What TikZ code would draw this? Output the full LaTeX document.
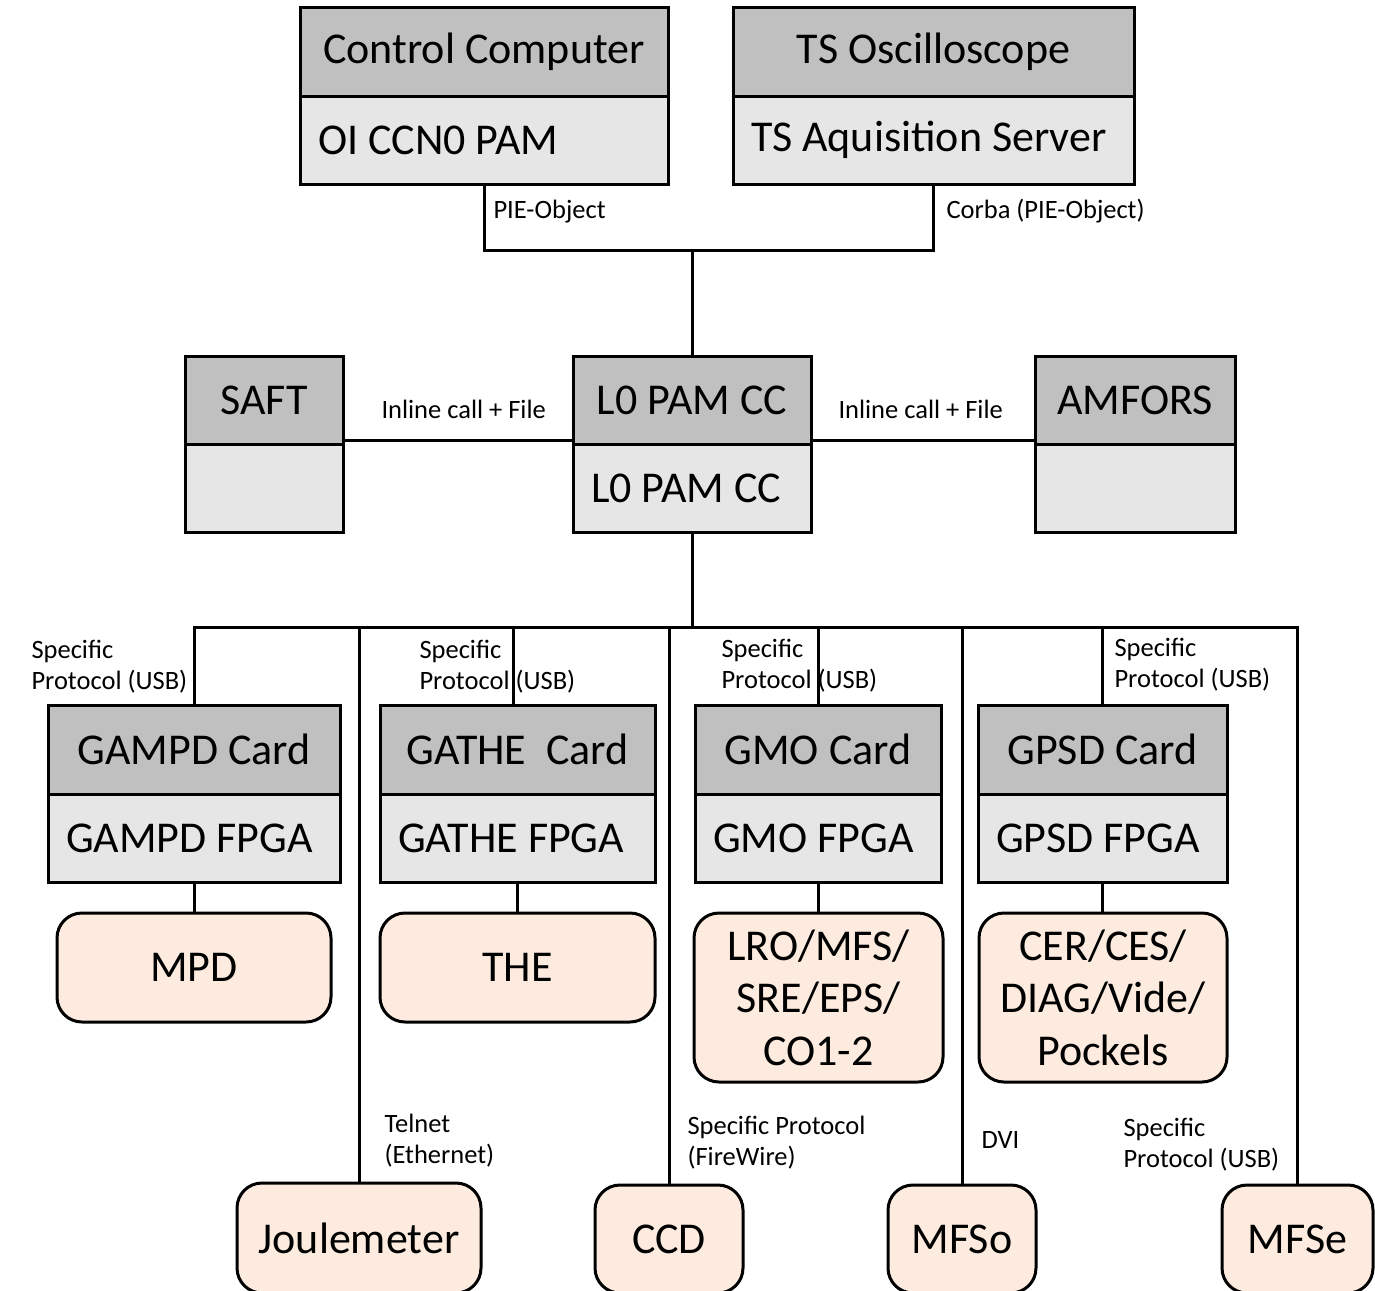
\documentclass[tikz,border=0pt]{standalone}
\usepackage{fontspec}
\setmainfont{Carlito}
\definecolor{hdr}{RGB}{192,192,192}
\definecolor{bdy}{RGB}{230,230,230}
\definecolor{dev}{RGB}{252,235,222}
\begin{document}
\begin{tikzpicture}[x=1pt,y=-1pt,line width=3pt,
  big/.style={font=\fontsize{44}{52.5}\selectfont},
  small/.style={font=\fontsize{26.5}{31}\selectfont},
  hdrbox/.style={draw, fill=hdr, inner sep=0pt, big, align=center, minimum height=88pt},
  bdybox/.style={draw, fill=bdy, inner ysep=0pt, inner xsep=18pt, big, align=flush left, minimum height=88pt},
  devbox/.style={draw, fill=dev, rounded corners=25pt, inner sep=0pt, big, align=center},
  lbl/.style={small, inner sep=0pt, anchor=base west, align=left}]
\clip (0,0) rectangle (1375,1290);

% top row
\node[hdrbox, minimum width=368pt] (cc) at (484,52) {Control Computer};
\node[bdybox, text width=332pt] (ccb) at (484,140) {OI CCN0 PAM};
\node[hdrbox, minimum width=401pt] (ts) at (933.5,52) {TS Oscilloscope};
\node[bdybox, text width=365pt] (tsb) at (933.5,140) {TS Aquisition Server};

% middle row
\node[hdrbox, minimum width=158pt] (saft) at (264,400) {SAFT};
\node[bdybox, text width=122pt] (saftb) at (264,488) {};
\node[hdrbox, minimum width=238pt] (l0) at (692,400) {L0 PAM CC};
\node[bdybox, text width=202pt] (l0b) at (692,488) {L0 PAM CC};
\node[hdrbox, minimum width=200pt] (amf) at (1135,400) {AMFORS};
\node[bdybox, text width=164pt] (amfb) at (1135,488) {};

% cards
\node[hdrbox, minimum width=292pt, minimum height=89pt] (gampd) at (194,749.5) {GAMPD Card};
\node[bdybox, text width=256pt] (gampdb) at (194,838) {GAMPD FPGA};
\node[hdrbox, minimum width=275pt, minimum height=89pt] (gathe) at (517.5,749.5) {GATHE\ \ Card};
\node[bdybox, text width=239pt] (gatheb) at (517.5,838) {GATHE FPGA};
\node[hdrbox, minimum width=246pt, minimum height=89pt] (gmo) at (818,749.5) {GMO Card};
\node[bdybox, text width=210pt] (gmob) at (818,838) {GMO FPGA};
\node[hdrbox, minimum width=249pt, minimum height=89pt] (gpsd) at (1102.5,749.5) {GPSD Card};
\node[bdybox, text width=213pt] (gpsdb) at (1102.5,838) {GPSD FPGA};

% devices
\node[devbox, minimum width=274pt, minimum height=109pt] (mpd) at (194,967.5) {MPD};
\node[devbox, minimum width=275pt, minimum height=109pt] (the) at (517.5,967.5) {THE};
\node[devbox, minimum width=249pt, minimum height=169pt] (lro) at (818.5,997.5) {LRO/MFS/\\SRE/EPS/\\CO1-2};
\node[devbox, minimum width=248pt, minimum height=169pt] (cer) at (1103,997.5) {CER/CES/\\DIAG/Vide/\\Pockels};
\node[devbox, minimum width=244pt, minimum height=110pt] (joule) at (359,1238) {Joulemeter};
\node[devbox, minimum width=148pt, minimum height=108pt] (ccd) at (669,1239) {CCD};
\node[devbox, minimum width=148pt, minimum height=108pt] (mfso) at (962,1239) {MFSo};
\node[devbox, minimum width=151pt, minimum height=108pt] (mfse) at (1297.5,1239) {MFSe};

% upper connections
\coordinate (topbus) at (692,250);
\draw (ccb.south) -- (ccb.south |- topbus) -- (tsb.south |- topbus) -- (tsb.south);
\draw (topbus) -- (l0.north);
\draw ([yshift=5pt]saft.south east) -- ([yshift=5pt]l0.south west);
\draw ([yshift=5pt]l0.south east) -- ([yshift=5pt]amf.south west);

% lower bus
\coordinate (bus) at (692,627);
\coordinate (gatheTap) at (513,627);
\draw (l0b.south) -- (bus);
\draw (gampd.north) -- (gampd.north |- bus) -- (mfse.north |- bus) -- (mfse.north);
\draw (gatheTap) -- (gatheTap |- gathe.north);
\draw (gmo.north |- bus) -- (gmo.north);
\draw (gpsd.north |- bus) -- (gpsd.north);
\draw (joule.north |- bus) -- (joule.north);
\draw (ccd.north |- bus) -- (ccd.north);
\draw (mfso.north |- bus) -- (mfso.north);

% card to device
\draw (gampdb.south) -- (mpd.north);
\draw (gatheb.south) -- (the.north);
\draw (gmob.south) -- (gmob.south |- lro.north);
\draw (gpsdb.south) -- (gpsdb.south |- cer.north);

% labels (two-line labels are anchored on their last line)
\node[lbl] (t1) at (492,218) {PIE-Object};
\node[lbl] (t2) at (945,218) {Corba (PIE-Object)};
\node[lbl] (t3) at (380,418) {Inline call + File};
\node[lbl] (t4) at (837,418) {Inline call + File};
\node[lbl] (t5) at (30,689) {Specific\\Protocol (USB)};
\node[lbl] (t6) at (418,689) {Specific\\Protocol (USB)};
\node[lbl] (t7) at (720,688) {Specific\\Protocol (USB)};
\node[lbl] (t8) at (1113,687) {Specific\\Protocol (USB)};
\node[lbl] (t9) at (383,1163) {Telnet\\(Ethernet)};
\node[lbl] (t10) at (686,1165) {Specific Protocol\\(FireWire)};
\node[lbl] (t11) at (980,1148) {DVI};
\node[lbl] (t12) at (1122,1167) {Specific\\Protocol (USB)};
\end{tikzpicture}
\end{document}
